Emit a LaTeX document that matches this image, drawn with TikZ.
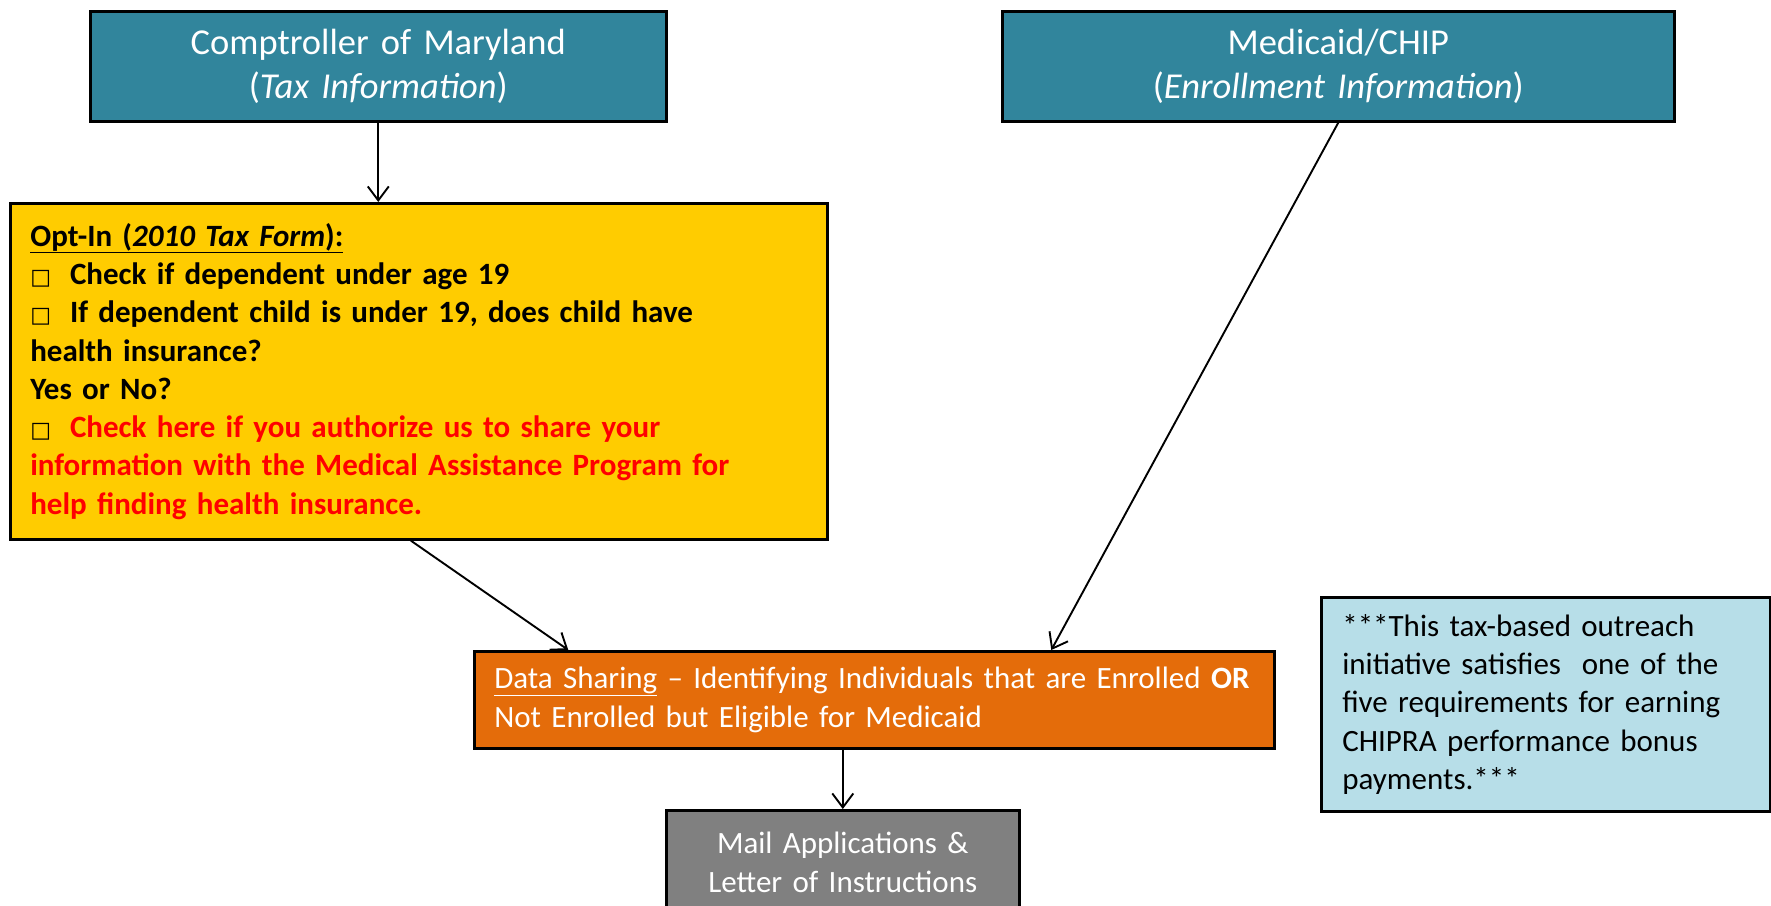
\documentclass[tikz,border=0pt]{standalone}
\usepackage{fontspec}
\setmainfont{Carlito}
\newfontfamily\symfont{DejaVu Sans}
\usetikzlibrary{arrows.meta,calc}

\definecolor{tealbox}{HTML}{31859C}
\definecolor{goldbox}{HTML}{FFCC00}
\definecolor{orangebox}{HTML}{E46C0A}
\definecolor{greybox}{HTML}{808080}
\definecolor{notebox}{HTML}{B7DEE8}
\definecolor{alertred}{HTML}{FF0000}

\newcommand\headsize{\fontsize{36.5}{44.6}\selectfont}
\newcommand\bodysize{\fontsize{31}{38.3}\selectfont}
\newcommand\chk{{\mdseries\symfont\fontsize{22}{22}\selectfont □}\hspace{19pt}}

\tikzset{
  box/.style={draw=black, line width=2.6pt, inner sep=0pt, anchor=north west},
  flow/.style={-{Straight Barb[length=14pt,width=21pt]}, line width=1.9pt},
}

\begin{document}
\begin{tikzpicture}[x=1pt,y=-1pt]
  \path[use as bounding box, clip] (0,0) rectangle (1771,905);
  \fill[white] (0,0) rectangle (1771,905);

  % data sources
  \node[box, fill=tealbox, text=white, minimum width=576pt, minimum height=110pt,
        text width=576pt, align=center, font=\headsize] (comp) at (89,10)
        {Comptroller of Maryland\\(\textit{Tax Information})};
  \node[box, fill=tealbox, text=white, minimum width=672pt, minimum height=110pt,
        text width=672pt, align=center, font=\headsize] (medi) at (1001,10)
        {Medicaid/CHIP\\(\textit{Enrollment Information})};

  % opt-in question on the tax form
  \node[box, fill=goldbox, minimum height=336pt, inner xsep=20pt,
        text width=777pt, align=left, font=\bodysize\bfseries] (optin) at (9,202)
        {\underline{Opt-In (\textit{2010 Tax Form}):}\\
         \chk Check if dependent under age 19\\
         \chk If dependent child is under 19, does child have\\
         health insurance?\\
         Yes or No?\\
         \chk\textcolor{alertred}{Check here if you authorize us to share your}\\
         \textcolor{alertred}{information with the Medical Assistance Program for}\\
         \textcolor{alertred}{help finding health insurance.}};

  % matching step
  \node[box, fill=orangebox, text=white, minimum height=97pt, inner xsep=20pt,
        text width=760pt, align=left, font=\bodysize] (share) at (473,650)
        {\underline{Data Sharing} – Identifying Individuals that are Enrolled \textbf{OR}\\
         Not Enrolled but Eligible for Medicaid};

  % outcome
  \node[box, fill=greybox, text=white, minimum width=353pt, minimum height=104pt,
        text width=353pt, align=center, font=\bodysize] (mail) at (665,809)
        {Mail Applications \&\\Letter of Instructions};

  % side note
  \node[box, fill=notebox, minimum height=214pt, inner xsep=21pt,
        text width=407pt, align=left, font=\bodysize] (note) at (1320,596)
        {***This tax-based outreach\\
         initiative satisfies\ \ one of the\\
         five requirements for earning\\
         CHIPRA performance bonus\\
         payments.***};

  % connectors
  \draw[flow] (comp.south) -- (comp.south |- optin.north);
  \draw[flow] ([xshift=-8pt]optin.south) -- ([xshift=-306pt]share.north);
  \draw[flow] (medi.south) -- ([xshift=177pt]share.north);
  \draw[flow] (share.south -| mail.north) -- (mail.north);
\end{tikzpicture}
\end{document}
